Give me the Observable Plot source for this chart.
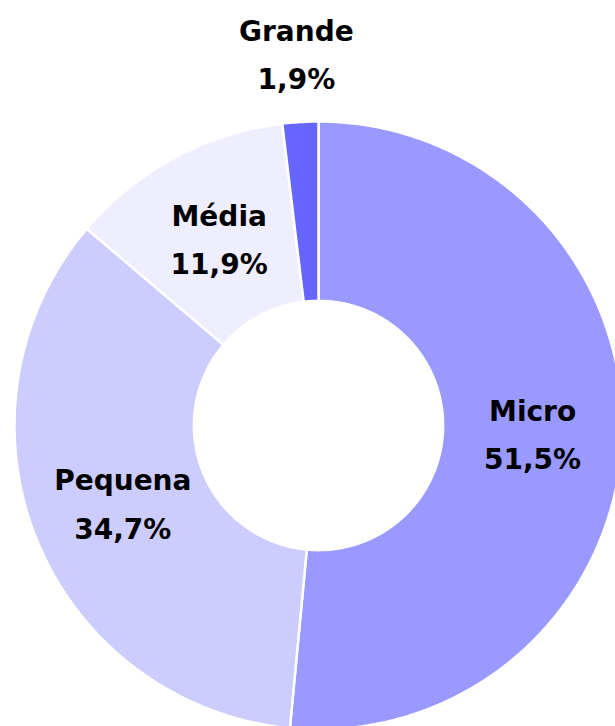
<!DOCTYPE html>
<html>
<head>
<meta charset="utf-8">
<script src="https://cdn.jsdelivr.net/npm/d3@7"></script>
<script src="https://cdn.jsdelivr.net/npm/@observablehq/plot@0.6"></script>
<style>
  html, body { margin: 0; padding: 0; background: #ffffff; }
  #chart svg { display: block; }
</style>
</head>
<body>
<div id="chart"></div>
<script>
// Data
const categories = ["Micro", "Pequena", "Média", "Grande"];
const shares = [51.5, 34.7, 11.9, 1.9];
const colors = ["#9999ff", "#ccccff", "#eeeeff", "#6666ff"];

// Layout (in data units of the x/y scales; outer radius = 1)
const W = 615, H = 726;
const cx = 318, cy = 425, R = 304; // pixel center & radius used to set scale domains
const innerR = 0.41;
const labelR = [0.705, 0.695, 0.69, 1.22];

const total = d3.sum(shares);
const pie = d3.pie().sort(null).value(d => d)(shares);

// Build slice outlines (angles measured clockwise from 12 o'clock)
const rows = [];
pie.forEach((p, i) => {
  const a0 = p.startAngle, a1 = p.endAngle;
  const n = Math.max(4, Math.ceil((a1 - a0) / (Math.PI / 360)));
  for (let k = 0; k <= n; k++) {
    const a = a0 + (a1 - a0) * k / n;
    rows.push({name: categories[i], x: Math.sin(a), y: Math.cos(a)});
  }
  for (let k = n; k >= 0; k--) {
    const a = a0 + (a1 - a0) * k / n;
    rows.push({name: categories[i], x: innerR * Math.sin(a), y: innerR * Math.cos(a)});
  }
});

const fmt = v => d3.format(".1f")(v).replace(".", ",") + "%";
const labels = pie.map((p, i) => {
  const a = (p.startAngle + p.endAngle) / 2;
  return {
    name: categories[i],
    x: labelR[i] * Math.sin(a),
    y: labelR[i] * Math.cos(a),
    text: categories[i] + "\n" + fmt(shares[i] / total * 100)
  };
});

const chart = Plot.plot({
  width: W,
  height: H,
  margin: 0,
  x: {domain: [-cx / R, (W - cx) / R], axis: null},
  y: {domain: [-(H - cy) / R, cy / R], axis: null},
  color: {domain: categories, range: colors},
  style: {background: "#ffffff"},
  marks: [
    Plot.line(rows, {
      x: "x", y: "y", z: "name",
      fill: "name",
      stroke: "#ffffff",
      strokeWidth: 2.5,
      curve: "linear-closed"
    }),
    Plot.text(labels, {
      x: "x", y: "y", text: "text",
      fill: "#000000",
      fontSize: 28,
      fontWeight: "bold",
      fontFamily: "DejaVu Sans, sans-serif",
      lineHeight: 1.72,
      dy: -6
    })
  ]
});

document.getElementById("chart").appendChild(chart);
</script>
</body>
</html>
